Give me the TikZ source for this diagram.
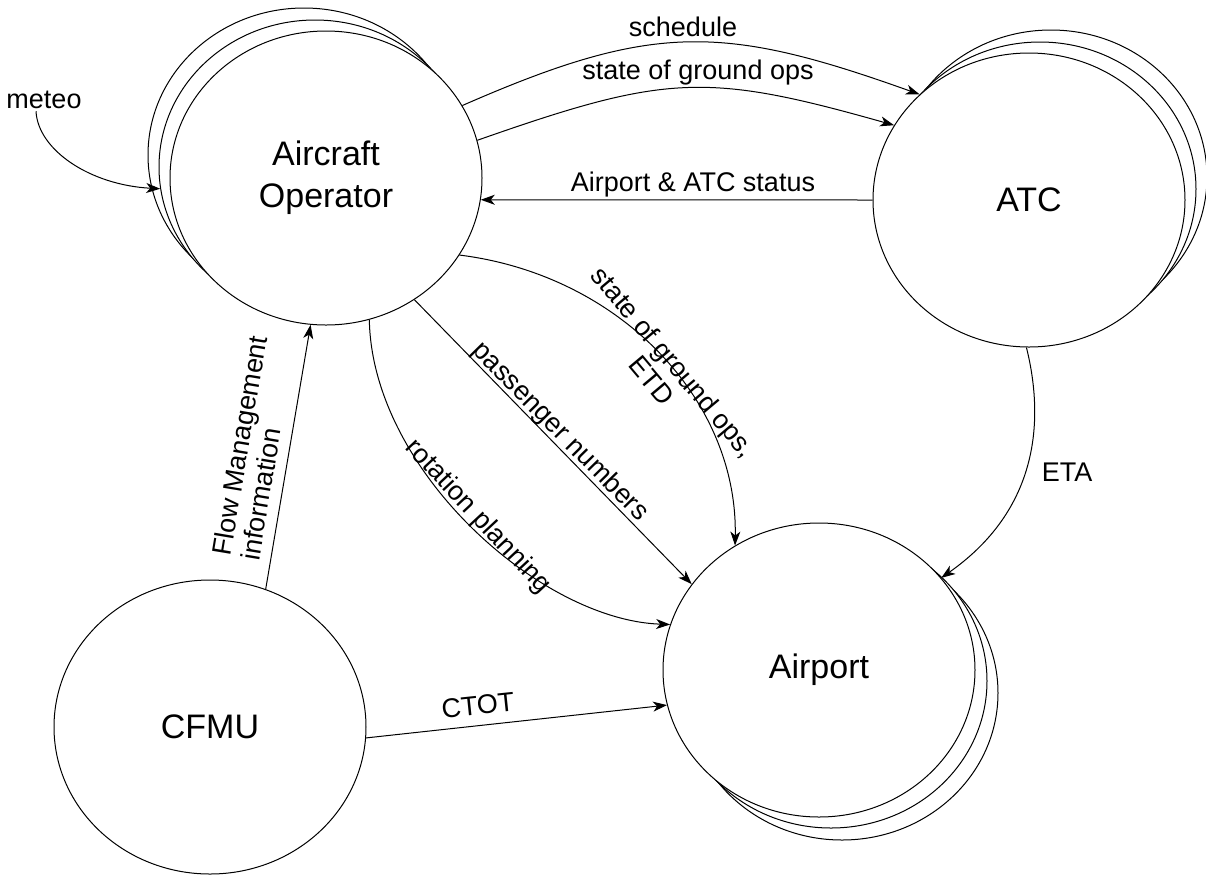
\documentclass[tikz,border=0pt]{standalone}
\usepackage{fontspec}
\setmainfont{Liberation Sans}
\usetikzlibrary{shapes.geometric,arrows.meta}
\begin{document}
\begin{tikzpicture}[x=0.5pt,y=-0.5pt,
  proc/.style={ellipse,draw,fill=white,line width=0.5pt,minimum width=156pt,minimum height=147pt,inner sep=0pt},
  big/.style={font=\fontsize{17}{21}\selectfont,align=center},
  lbl/.style={font=\fontsize{13.5}{14.5}\selectfont,inner sep=1pt},
  arr/.style={-{Stealth[length=7pt,width=5pt,inset=2pt]},line width=0.5pt},
]
\useasboundingbox (0,0) rectangle (1206,875);
% Aircraft Operator (stacked)
\node[proc] (AOc) at (304,155) {};
\node[proc] (AOb) at (315,167) {};
\node[proc] (AO) at (326,178) {};
\node[big] (AOt) at (AO) {Aircraft\\Operator};
% ATC (stacked)
\node[proc] (ATCc) at (1051,177) {};
\node[proc] (ATCb) at (1040,189) {};
\node[proc] (ATC) at (1029,200) {};
\node[big] (ATCt) at (ATC) {ATC};
% Airport (stacked)
\node[proc] (APc) at (842,693) {};
\node[proc] (APb) at (831,681) {};
\node[proc] (Airport) at (819,670) {};
\node[big] (APt) at (Airport) {Airport};
% CFMU
\node[proc] (CFMU) at (210,727) {};
\node[big] (CFMUt) at (CFMU) {CFMU};
% labels
\node[lbl] (meteo) at (44,100) {meteo};
\node[lbl] (l1) at (683,27) {schedule};
\node[lbl] (l2) at (698,73) {state of ground ops};
\node[lbl] (l3) at (693,185) {Airport \& ATC status};
\node[lbl,rotate=-50,align=center] (l4) at (663,371) {state of ground ops,\\ETD};
\node[lbl,rotate=-45.5] (l5) at (560,432) {passenger numbers};
\node[lbl,rotate=-47] (l6) at (478,517) {rotation planning};
\node[lbl,rotate=6] (l7) at (478,705) {CTOT};
\node[lbl,rotate=80.5,align=left,anchor=west] (l8) at (235,560) {Flow Management\\information};
\node[lbl] (l9) at (1067,472) {ETA};
% connectors
\draw[arr] ([xshift=-4pt]meteo.south) .. controls (38,150) and (90,185) .. (AOb.188);
\draw[arr] (AO.28.9) .. controls (653,22) and (723,24) .. (ATC.136.6);
\draw[arr] (AO.14.6) .. controls (666,74) and (706,72) .. (ATC.151.7);
\draw[arr] (ATC.180) -- (AO.-8.1);
\draw[arr] (AO.-30.8) .. controls (620,275) and (738,400) .. (Airport.124.8);
\draw[arr] (AO.-54.5) -- (Airport.146);
\draw[arr] (AO.-73.7) .. controls (372,470) and (540,620) .. (Airport.163.2);
\draw[arr] (CFMU.68.4) -- (AO.-96.9);
\draw[arr] (CFMU.-4.3) -- (Airport.193.6);
\draw[arr] (ATC.-91.1) .. controls (1042,410) and (1045,505) .. (Airport.37.9);
\end{tikzpicture}
\end{document}
